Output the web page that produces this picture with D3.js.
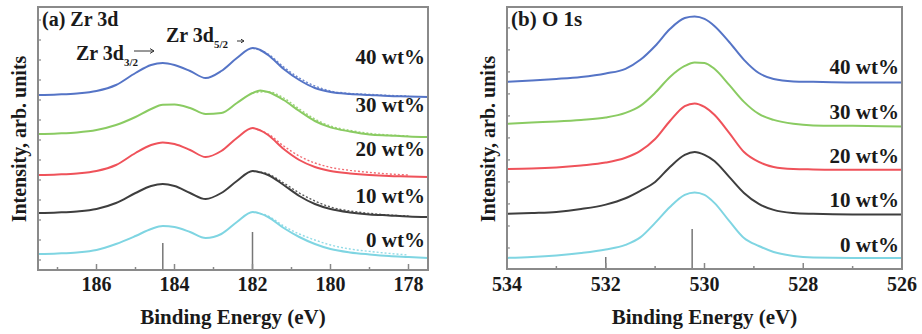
<!DOCTYPE html>
<html>
<head>
<meta charset="utf-8">
<script src="https://cdn.jsdelivr.net/npm/d3@7"></script>
<style>
  body { margin: 0; background: #fff; }
  text { font-family: "Liberation Serif", "Times New Roman", serif; font-weight: bold; fill: #1a1a1a; }
</style>
</head>
<body>
<svg id="chart" width="922" height="334"></svg>
<script>
// ---- data ----
// (a) Zr 3d, binding energy (eV) and intensities (arb. units, stacked)
const energyZr = [187.5, 187, 186.5, 186, 185.5, 185, 184.6, 184.3, 184, 183.6, 183.2, 182.8,
                  182.4, 182, 181.8, 181.6, 181.2, 180.8, 180.4, 180, 179.5, 179, 178.5, 178, 177.5];
const zr40 = [8.25, 8.28, 8.33, 8.45, 8.75, 9.35, 9.75, 9.85, 9.75, 9.45, 9.10, 9.45,
              10.10, 10.60, 10.50, 10.25, 9.55, 9.00, 8.60, 8.40, 8.30, 8.25, 8.20, 8.18, 8.15];
const zr30 = [6.30, 6.33, 6.38, 6.50, 6.75, 7.15, 7.55, 7.76, 7.78, 7.60, 7.30, 7.35,
              7.85, 8.35, 8.48, 8.40, 8.00, 7.45, 6.95, 6.63, 6.43, 6.28, 6.23, 6.18, 6.15];
const zr20 = [4.25, 4.28, 4.33, 4.45, 4.75, 5.35, 5.75, 5.88, 5.80, 5.50, 5.15, 5.45,
              6.10, 6.60, 6.48, 6.25, 5.55, 5.00, 4.65, 4.45, 4.33, 4.25, 4.20, 4.18, 4.15];
const zr10 = [2.35, 2.38, 2.43, 2.55, 2.85, 3.35, 3.70, 3.80, 3.70, 3.35, 3.05, 3.35,
              3.95, 4.45, 4.38, 4.25, 3.75, 3.20, 2.80, 2.55, 2.38, 2.28, 2.23, 2.18, 2.15];
const zr0  = [0.30, 0.33, 0.38, 0.50, 0.80, 1.20, 1.55, 1.70, 1.65, 1.40, 1.10, 1.30,
              1.90, 2.40, 2.32, 2.15, 1.60, 1.15, 0.80, 0.55, 0.38, 0.28, 0.20, 0.15, 0.10];
// dotted fit on the low-energy tail
const energyTail = [182, 181.6, 181.2, 180.8, 180.4, 180, 179.5, 179, 178.5, 178];
const tail40 = [10.60, 10.30, 9.65, 9.10, 8.70, 8.45, 8.33, 8.28, 8.23, 8.20];
const tail30 = [8.35, 8.42, 8.10, 7.55, 7.05, 6.70, 6.48, 6.33, 6.25, 6.20];
const tail20 = [6.60, 6.30, 5.70, 5.20, 4.85, 4.63, 4.48, 4.38, 4.30, 4.25];
const tail10 = [4.45, 4.30, 3.85, 3.35, 2.95, 2.65, 2.45, 2.33, 2.25, 2.20];
const tail0  = [2.40, 2.20, 1.70, 1.30, 1.00, 0.75, 0.55, 0.43, 0.33, 0.25];

// (b) O 1s
const energyO = [534, 533.5, 533, 532.5, 532, 531.6, 531.3, 531, 530.7, 530.4, 530.2,
                 530, 529.8, 529.5, 529.2, 528.9, 528.6, 528.2, 527.8, 527, 526];
const o40 = [7.55, 7.61, 7.68, 7.77, 7.93, 8.14, 8.55, 9.18, 9.95, 10.45, 10.52,
             10.41, 10.09, 9.36, 8.55, 7.95, 7.68, 7.57, 7.55, 7.52, 7.52];
const o30 = [5.64, 5.70, 5.75, 5.82, 5.93, 6.14, 6.46, 7.05, 7.77, 8.27, 8.43,
             8.41, 8.14, 7.41, 6.64, 6.09, 5.82, 5.64, 5.57, 5.55, 5.52];
const o20 = [3.59, 3.61, 3.66, 3.75, 3.88, 4.10, 4.41, 4.95, 5.77, 6.45, 6.57,
             6.41, 6.05, 5.23, 4.36, 3.91, 3.68, 3.59, 3.57, 3.55, 3.55];
const o10 = [1.55, 1.59, 1.64, 1.77, 1.97, 2.26, 2.60, 3.00, 3.68, 4.23, 4.36,
             4.23, 3.95, 3.23, 2.50, 2.00, 1.73, 1.59, 1.55, 1.52, 1.52];
const o0  = [-0.45, -0.41, -0.34, -0.23, -0.07, 0.14, 0.48, 1.14, 1.86, 2.41, 2.52,
             2.41, 2.05, 1.23, 0.45, 0.09, -0.18, -0.36, -0.43, -0.45, -0.45];

const seriesNames = ['40 wt%', '30 wt%', '20 wt%', '10 wt%', '0 wt%'];
const seriesColors = ['#5574c6', '#8acb62', '#ef525a', '#3e3e3e', '#7fd5e2'];
const labelLevelZr = [9.8, 7.4, 5.2, 2.85, 0.65];
const labelLevelO = [7.91, 5.86, 3.86, 1.86, -0.18];

// reference markers (energy, top of line)
const refZr = [[184.3, 0.85], [182.0, 1.4]];
const refO = [[530.25, 0.86], [532, -0.41]];

const ticksZr = [186, 184, 182, 180, 178];
const minorZr = [187, 185, 183, 181, 179];
const ticksO = [534, 532, 530, 528, 526];
const minorO = [533, 531, 529, 527];

// ---- drawing ----
const svg = d3.select('#chart');
svg.append('rect').attr('width', 922).attr('height', 334).attr('fill', '#fff');

function drawPanel(opt) {
  const x = d3.scaleLinear().domain(opt.xDomain).range([opt.left, opt.right]);
  const y = d3.scaleLinear().domain(opt.yDomain).range([opt.bottom, opt.top]);
  const g = svg.append('g');

  const line = d3.line()
    .x(d => x(d[0]))
    .y(d => y(d[1]))
    .curve(d3.curveMonotoneX);

  // dotted fits first
  if (opt.tails) {
    opt.tails.forEach((vals, i) => {
      g.append('path')
        .attr('d', line(opt.tailEnergy.map((e, k) => [e, vals[k]])))
        .attr('fill', 'none')
        .attr('stroke', seriesColors[i])
        .attr('stroke-width', 1.4)
        .attr('stroke-dasharray', '2,2')
        .attr('opacity', 0.85);
    });
  }

  opt.series.forEach((vals, i) => {
    g.append('path')
      .attr('d', line(opt.energy.map((e, k) => [e, vals[k]])))
      .attr('fill', 'none')
      .attr('stroke', seriesColors[i])
      .attr('stroke-width', 2)
      .attr('stroke-linejoin', 'round');
  });

  // reference lines
  opt.refs.forEach(r => {
    g.append('line')
      .attr('x1', x(r[0])).attr('x2', x(r[0]))
      .attr('y1', y(r[1])).attr('y2', opt.bottom)
      .attr('stroke', '#777').attr('stroke-width', 1.5);
  });

  // inner ticks
  opt.ticks.forEach(t => {
    g.append('line').attr('x1', x(t)).attr('x2', x(t))
      .attr('y1', opt.bottom).attr('y2', opt.bottom - 6)
      .attr('stroke', '#888').attr('stroke-width', 1.5);
  });
  opt.minor.forEach(t => {
    g.append('line').attr('x1', x(t)).attr('x2', x(t))
      .attr('y1', opt.bottom).attr('y2', opt.bottom - 3)
      .attr('stroke', '#888').attr('stroke-width', 1.5);
  });
  d3.range(Math.ceil(opt.yDomain[0]), Math.floor(opt.yDomain[1]) + 1).forEach(v => {
    g.append('line').attr('x1', opt.left).attr('x2', opt.left + 3)
      .attr('y1', y(v)).attr('y2', y(v))
      .attr('stroke', '#888').attr('stroke-width', 1.2);
  });

  // frame
  g.append('rect')
    .attr('x', opt.left).attr('y', opt.top)
    .attr('width', opt.right - opt.left).attr('height', opt.bottom - opt.top)
    .attr('fill', 'none').attr('stroke', '#8a8a8a').attr('stroke-width', 2);

  // tick labels
  opt.ticks.forEach(t => {
    g.append('text').attr('x', x(t)).attr('y', 291)
      .attr('text-anchor', 'middle').attr('font-size', 20).text(t);
  });

  // series labels
  seriesNames.forEach((s, i) => {
    g.append('text').attr('x', opt.right - 3).attr('y', y(opt.labelLevels[i]))
      .attr('text-anchor', 'end').attr('font-size', 21).text(s);
  });

  // axis titles
  g.append('text').attr('x', (opt.left + opt.right) / 2).attr('y', 324)
    .attr('text-anchor', 'middle').attr('font-size', 21).text('Binding Energy (eV)');
  g.append('text')
    .attr('transform', `translate(${opt.left - 12},139) rotate(-90)`)
    .attr('text-anchor', 'middle').attr('font-size', 20).text('Intensity, arb. units');

  g.append('text').attr('x', opt.left + 4).attr('y', 26)
    .attr('font-size', opt.titleSize).text(opt.title);

  return { x, y, g };
}

const a = drawPanel({
  left: 38, right: 428, top: 7, bottom: 270,
  xDomain: [187.5, 177.5], yDomain: [-0.5, 12.65],
  energy: energyZr, series: [zr40, zr30, zr20, zr10, zr0],
  tailEnergy: energyTail, tails: [tail40, tail30, tail20, tail10, tail0],
  refs: refZr, ticks: ticksZr, minor: minorZr,
  labelLevels: labelLevelZr, title: '(a) Zr 3d', titleSize: 20
});

drawPanel({
  left: 507, right: 902, top: 7, bottom: 269,
  xDomain: [534, 526], yDomain: [-0.955, 10.95],
  energy: energyO, series: [o40, o30, o20, o10, o0],
  refs: refO, ticks: ticksO, minor: minorO,
  labelLevels: labelLevelO, title: '(b) O 1s', titleSize: 21
});

// peak annotations on panel (a)
function peakLabel(x, y, sub) {
  const t = a.g.append('text').attr('x', x).attr('y', y).attr('font-size', 20);
  t.append('tspan').text('Zr 3d');
  t.append('tspan').attr('font-size', 11).attr('dy', 6).text(sub);
}
peakLabel(76, 60, '3/2');
peakLabel(166, 42, '5/2');

// small arrows next to the peak labels
function arrow(x0, y0, len, head) {
  a.g.append('path')
    .attr('d', `M${x0},${y0}H${x0 + len}M${x0 + len - head},${y0 - head * 0.6}L${x0 + len},${y0}L${x0 + len - head},${y0 + head * 0.6}`)
    .attr('fill', 'none').attr('stroke', '#333').attr('stroke-width', 1);
}
arrow(134, 51, 20, 4);
arrow(237, 41, 7, 3);
</script>
</body>
</html>
